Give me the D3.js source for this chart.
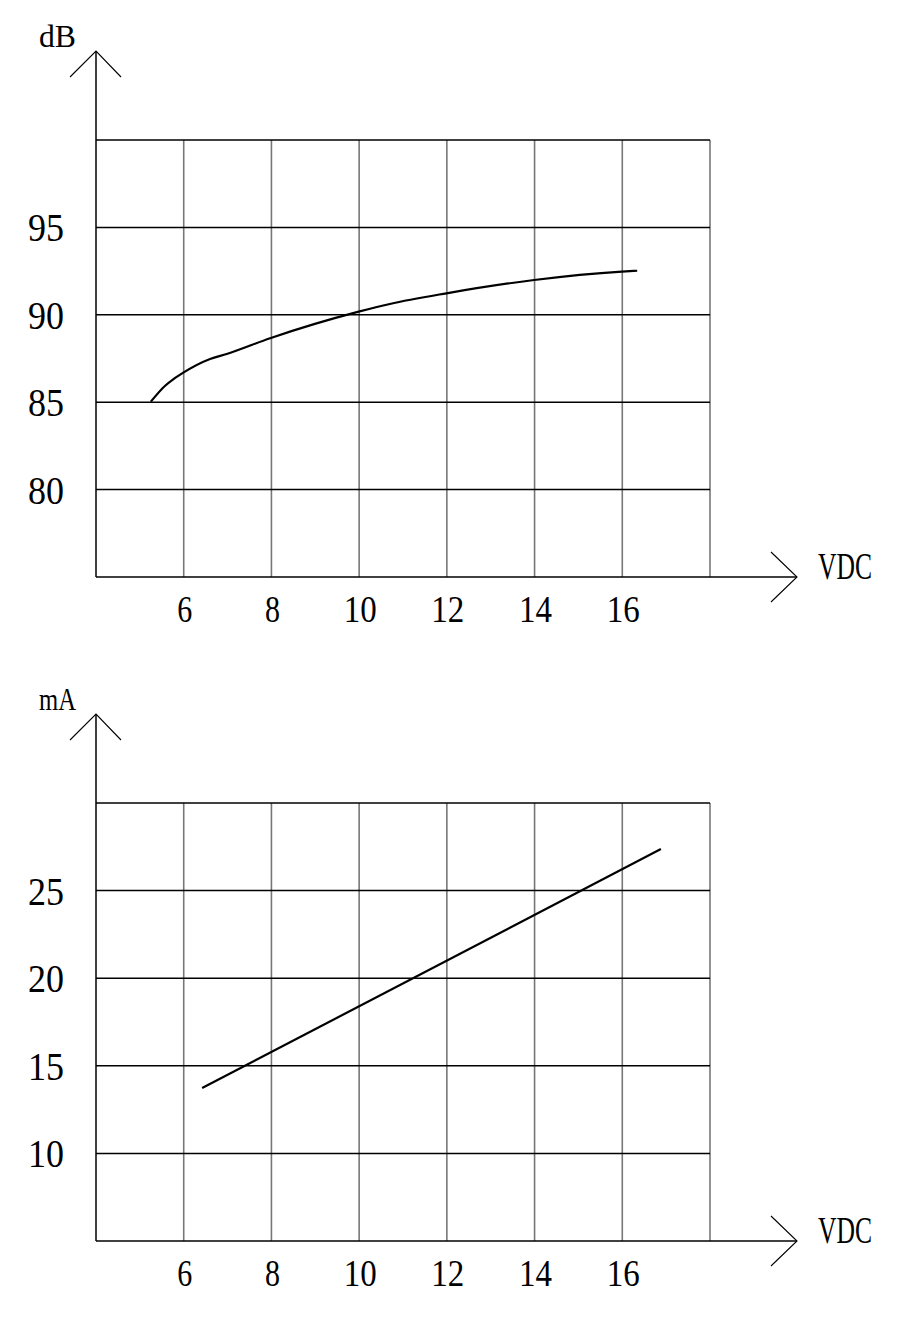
<!DOCTYPE html>
<html><head><meta charset="utf-8">
<script src="https://cdn.jsdelivr.net/npm/d3@7"></script>
<style>body{margin:0;background:#fff}svg{display:block}</style>
</head><body>
<script>
// ---- data ----
const xTicks = [6, 8, 10, 12, 14, 16];
const xGrid = [4, 6, 8, 10, 12, 14, 16, 18];
const dbTicks = [80, 85, 90, 95];
const dbGrid = [75, 80, 85, 90, 95, 100];
const maTicks = [10, 15, 20, 25];
const maGrid = [5, 10, 15, 20, 25, 30];
const dbVolts = [5.25, 5.57, 5.76, 5.99, 6.6, 6.98, 7.97, 9.99, 10.7, 11.99, 13.99, 15.99, 16.34];
const dbValues = [85.03, 85.93, 86.31, 86.69, 87.47, 87.76, 88.66, 90.18, 90.62, 91.23, 91.99, 92.47, 92.52];
const maVolts = [6.42, 16.88];
const maValues = [13.73, 27.37];

const W = 906, H = 1341;
const svg = d3.select("body").append("svg").attr("width", W).attr("height", H);
const FONT = "'Liberation Serif', 'DejaVu Serif', serif";

function scaledText(g, x, y, str, size, width, anchor) {
  return g.append("text").attr("x", x).attr("y", y)
    .attr("font-family", FONT).attr("font-size", size).attr("fill", "#000")
    .attr("text-anchor", anchor)
    .attr("textLength", width).attr("lengthAdjust", "spacingAndGlyphs")
    .text(str);
}

function panel(top, bottom, yDomain, grid, ticks, yLabel, xs, ys) {
  const x = d3.scaleLinear().domain([4, 18]).range([96, 710]);
  const y = d3.scaleLinear().domain(yDomain).range([bottom, top]);
  const g = svg.append("g");
  g.selectAll(".vg").data(xGrid.slice(1)).enter().append("line")
    .attr("x1", d => x(d)).attr("x2", d => x(d))
    .attr("y1", y(yDomain[0])).attr("y2", y(yDomain[1]))
    .attr("stroke", "#777").attr("stroke-width", 1.6);
  g.selectAll(".hg").data(grid.slice(1)).enter().append("line")
    .attr("x1", x(4)).attr("x2", x(18))
    .attr("y1", d => y(d)).attr("y2", d => y(d))
    .attr("stroke", "#000").attr("stroke-width", 1.5);
  const x0 = x(4), y0 = y(yDomain[0]);
  const tipY = y(yDomain[1]) - 89, tipX = 797;
  g.append("line").attr("x1", x0).attr("x2", x0).attr("y1", y0).attr("y2", tipY)
    .attr("stroke", "#000").attr("stroke-width", 1.5);
  g.append("line").attr("x1", x0).attr("x2", tipX).attr("y1", y0).attr("y2", y0)
    .attr("stroke", "#000").attr("stroke-width", 1.5);
  g.append("path").attr("d", `M${x0-26},${tipY+26}L${x0},${tipY}L${x0+25},${tipY+26}`)
    .attr("fill", "none").attr("stroke", "#000").attr("stroke-width", 1.1);
  g.append("path").attr("d", `M${tipX-26},${y0-25}L${tipX},${y0}L${tipX-26},${y0+25}`)
    .attr("fill", "none").attr("stroke", "#000").attr("stroke-width", 1.1);
  ticks.forEach(v => scaledText(g, 64, y(v) + 14, String(v), 41, 36, "end"));
  xTicks.forEach(v => {
    const s = String(v);
    scaledText(g, x(v) + 1, y0 + 45, s, 38, s.length === 1 ? 15 : 33, "middle");
  });
  scaledText(g, 39, tipY - 4, yLabel, 32, 37, "start");
  scaledText(g, 818, y0 + 2, "VDC", 38, 54, "start");
  const line = d3.line().x((d, i) => x(xs[i])).y((d, i) => y(ys[i])).curve(d3.curveMonotoneX);
  g.append("path").datum(xs).attr("d", line)
    .attr("fill", "none").attr("stroke", "#000").attr("stroke-width", 2.2)
    .attr("stroke-linejoin", "round");
}

panel(140, 577, [75, 100], dbGrid, dbTicks, "dB", dbVolts, dbValues);
panel(803, 1241, [5, 30], maGrid, maTicks, "mA", maVolts, maValues);
</script>
</body></html>
